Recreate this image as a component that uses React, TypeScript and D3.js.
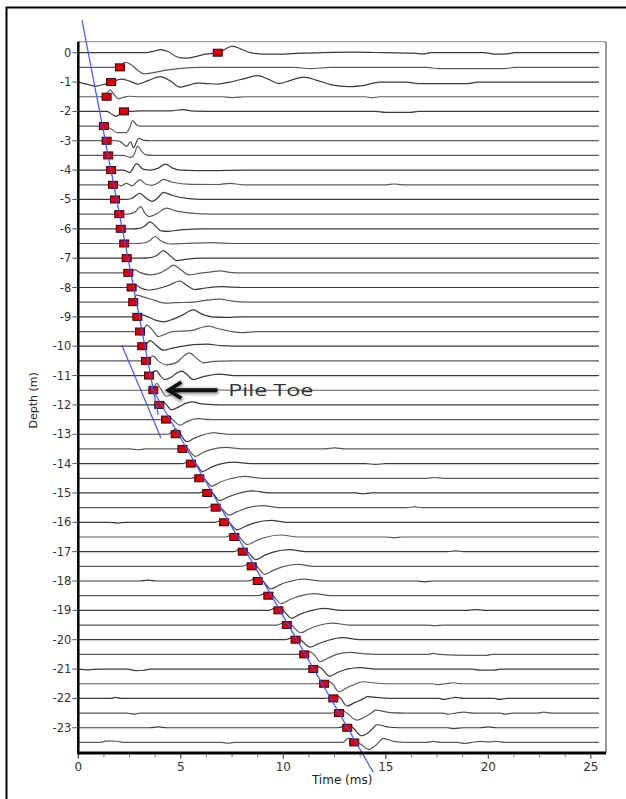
import React from "react";
import * as d3 from "d3";

const W = 626;
const H = 799;

// Trace depths (m)
const depths: number[] = Array.from({ length: 48 }, (_, i) => -i * 0.5);

// First-arrival picks (ms) for each depth
const arrivalTimes: number[] = [
  6.8, 2.03, 1.6, 1.38, 2.23, 1.25, 1.38, 1.46, 1.6, 1.69,
  1.79, 2.0, 2.07, 2.24, 2.36, 2.44, 2.6, 2.68, 2.88, 3.01,
  3.12, 3.3, 3.45, 3.66, 3.95, 4.28, 4.75, 5.08, 5.49, 5.9,
  6.29, 6.7, 7.11, 7.61, 8.02, 8.46, 8.75, 9.27, 9.76, 10.17,
  10.6, 11.02, 11.46, 11.99, 12.44, 12.72, 13.12, 13.46,
];

// Waveforms: [time ms, amplitude (up positive)]
const traceWaves: number[][][] = [
  [[0,0],[3.3,0],[3.7,1.5],[4.0,3],[4.4,1],[4.8,-4],[5.2,-5.5],[5.6,-4.5],[6.2,-1.5],[6.8,0],[7.2,4],[7.5,6.5],[7.9,4],[8.4,0],[9.0,-1.5],[9.8,-1.5],[10.8,-0.5],[11.8,0],[13.5,0.5],[15,0],[16.4,-0.5],[16.8,-1.2],[17.2,0],[19.8,0],[20.3,-1.5],[20.9,-1.2],[21.3,0],[25.4,0]],
  [[0,0],[1.6,0],[1.95,1],[2.3,5],[2.6,2.5],[2.9,-3],[3.2,-6.5],[3.6,-5.5],[4.2,-3],[5,-1],[6,0],[10.5,0],[11.3,-1.2],[12.3,0],[17.0,0],[17.6,-1.2],[20.8,-1.2],[21.3,0],[25.4,0]],
  [[0,0],[0.4,-2],[0.85,-4],[1.3,-2],[1.65,0.5],[2.1,3],[2.5,1],[2.9,-2],[3.4,1.5],[4.0,5.5],[4.5,1],[4.95,-5],[5.4,-3],[5.8,-1],[6.3,-1.5],[6.8,-2],[7.4,0],[8.2,4],[8.75,6.5],[9.3,2.5],[9.8,-1.5],[10.4,2],[11.0,5],[11.6,2],[12.3,-2.5],[13.2,-4.5],[14.0,-3],[14.7,0],[16,0],[16.6,-1.5],[19.0,-1.5],[19.5,0],[25.4,0]],
  [[0,0],[1.2,0],[1.38,3],[1.55,7],[1.75,2],[1.95,-2],[2.2,-0.5],[2.5,0.5],[3.0,0],[7,0],[7.5,-0.8],[8.2,0],[14,0],[14.3,-1],[14.7,0],[25.4,0]],
  [[0,0],[1.4,0],[1.65,-3],[1.85,-5],[2.05,-2],[2.3,2.5],[2.55,0],[3.0,0.5],[4.5,0.5],[5.1,1.8],[5.6,0.3],[7,0],[14.5,0],[15,-1],[16.2,-1],[16.6,0],[25.4,0]],
  [[0,0],[1.25,0],[1.6,-3],[1.9,-6.5],[2.35,-6.5],[2.5,-2],[2.65,5.5],[2.85,1],[3.0,0],[25.4,0]],
  [[0,0],[1.9,0],[2.1,-1.5],[2.36,-5.5],[2.55,-1],[2.7,-7],[2.8,-3],[2.95,2.5],[3.2,0.5],[3.5,0],[25.4,0]],
  [[0,0],[2.2,0],[2.55,-2],[2.7,0],[2.9,9],[3.1,4],[3.3,0.5],[3.7,0],[25.4,0]],
  [[0,0],[2.2,0],[2.5,-2.5],[2.85,6.5],[3.15,1],[3.5,0],[3.9,2],[4.25,6],[4.6,2],[5.0,0],[6.5,-0.5],[8,0],[25.4,0]],
  [[0,0],[1.9,0],[2.1,-1],[2.35,1.5],[2.6,-1],[3.0,5],[3.3,0.5],[3.6,-0.5],[3.9,2],[4.15,5.5],[4.6,2.5],[5.5,0.5],[6.8,0.3],[7.4,1.5],[8,0],[15,0],[15.4,0.8],[15.8,0],[25.4,0]],
  [[0,0],[2.3,0],[2.6,1],[3.0,6],[3.3,1.5],[3.6,-2],[3.9,2],[4.15,7],[4.6,4],[5.3,1],[6,0],[25.4,0]],
  [[0,0],[2.4,0],[2.75,2],[3.05,7.5],[3.25,1],[3.45,-2.5],[3.8,0],[4.3,6],[4.8,3],[5.5,1],[6.5,0],[25.4,0]],
  [[0,0],[2.6,0],[3.0,0.5],[3.25,3],[3.5,7],[3.75,3],[4.05,-2],[4.4,-2.5],[5,-1],[6,0],[25.4,0]],
  [[0,0],[2.8,0],[3.2,0.5],[3.5,3],[3.75,7],[4.0,3],[4.5,-0.5],[5.2,0],[6.5,0.8],[7.5,0],[25.4,0]],
  [[0,0],[3.0,0],[3.5,0.5],[3.85,3],[4.15,7.5],[4.45,3],[4.8,-2.5],[5.3,-1],[6,0],[25.4,0]],
  [[0,0],[2.5,0],[2.75,3],[3.0,0.5],[3.5,-2],[4.0,0],[4.35,4],[4.65,7.8],[5.0,3],[5.4,-2],[5.9,-0.5],[6.5,1],[6.9,2],[7.4,0.5],[8,0],[25.4,0]],
  [[0,0],[2.6,0],[2.8,2.5],[3.0,0],[3.4,-2.5],[3.9,-1],[4.4,2],[4.95,6.5],[5.3,2],[5.7,-2],[6.2,-0.5],[7,0.8],[8,0],[25.4,0]],
  [[0,0],[2.6,0],[2.85,7],[3.2,5],[3.7,2],[4.2,-1],[4.8,-0.5],[5.6,0],[6.1,1.5],[6.9,3],[7.5,1],[8.3,0],[25.4,0]],
  [[0,0],[2.85,0],[3.1,2],[3.4,0],[3.8,-3.5],[4.15,-5],[4.6,-2.5],[5.1,2],[5.6,7],[6.0,3],[6.5,0],[7.2,-0.5],[8,0],[25.4,0]],
  [[0,0],[3.0,0],[3.2,3],[3.35,6.5],[3.6,2],[3.9,-5],[4.2,-3],[4.6,0],[5.5,1],[6.0,4],[6.35,5.5],[6.8,3],[7.5,0],[8.0,-1],[8.7,0],[25.4,0]],
  [[0,0],[3.1,0],[3.3,2],[3.5,5.5],[3.8,1],[4.15,-4],[4.6,-2],[5.1,0],[5.6,1.5],[6.3,2],[7,0.5],[8,0],[25.4,0]],
  [[0,0],[3.3,0],[3.45,2],[3.65,5],[3.9,0],[4.3,-4],[4.8,-1.5],[5.1,4],[5.4,8],[5.75,3],[6.1,-2],[6.6,-0.5],[7.5,0],[25.4,0]],
  [[0,0],[3.45,0],[3.6,3],[3.8,5],[4.0,0],[4.2,-4],[4.55,-1.5],[4.8,2.5],[5.05,4.5],[5.35,0],[5.6,-4],[6.1,-1],[6.9,1.5],[7.6,0],[25.4,0]],
  [[0,0],[3.6,0],[3.7,3],[3.82,7],[4.0,2],[4.3,-6],[4.7,-3],[5.3,0],[6.5,0.5],[7.5,0],[25.4,0]],
  [[0,0],[3.8,0],[4.0,2],[4.15,3],[4.3,0],[4.55,-5],[4.9,-2],[5.3,2],[5.6,3],[6.0,1],[7,0],[25.4,0]],
  [[0,0],[4.1,0],[4.3,2],[4.4,3.5],[4.6,0],[4.95,-5.5],[5.3,-2],[5.8,1],[6.5,0],[25.4,0]],
  [[0,0],[4.4,0],[4.6,3],[4.75,5.5],[4.95,1],[5.3,-7.5],[5.65,-4],[6.1,-0.5],[6.6,1.5],[7.3,0],[25.4,0]],
  [[0,0],[2.5,0],[2.9,-0.8],[3.3,0],[4.8,0],[5.0,2],[5.15,3.5],[5.35,0],[5.7,-7.5],[6.05,-4],[6.5,-0.5],[7.2,1.5],[8,0],[12,0],[12.5,1],[13,0],[25.4,0]],
  [[0,0],[5.1,0],[5.35,2],[5.55,3],[5.75,0],[6.05,-8],[6.45,-4],[6.9,-0.5],[7.6,1.5],[8.4,0],[14,0],[14.5,-0.8],[15,0],[25.4,0]],
  [[0,0],[5.5,0],[5.8,2],[5.95,3],[6.15,0],[6.5,-8],[6.9,-4],[7.4,-0.5],[8.1,2],[9,0],[17,0],[17.4,0.8],[17.8,0],[25.4,0]],
  [[0,0],[5.9,0],[6.15,2],[6.35,3],[6.55,0],[6.9,-7.5],[7.3,-4],[7.8,-0.5],[8.5,2],[9.3,0],[13.5,0],[13.9,-0.8],[14.3,0],[25.4,0]],
  [[0,0],[6.3,0],[6.55,2],[6.75,3],[6.95,0],[7.35,-7.5],[7.75,-4],[8.2,-0.5],[9.0,2],[9.8,0],[16,0],[16.4,0.8],[16.8,0],[25.4,0]],
  [[0,0],[1.5,0],[1.9,-0.8],[2.3,0],[6.7,0],[6.95,2],[7.15,3],[7.35,0],[7.75,-7.5],[8.15,-4],[8.6,-0.5],[9.4,2],[10.2,0],[25.4,0]],
  [[0,0],[7.2,0],[7.45,2],[7.65,3],[7.85,0],[8.25,-7.5],[8.65,-4],[9.1,-0.5],[9.9,2],[10.7,0],[15,0],[15.4,-0.8],[15.8,0],[25.4,0]],
  [[0,0],[7.6,0],[7.85,2],[8.05,3],[8.25,0],[8.65,-8],[9.05,-4],[9.5,-0.5],[10.3,2],[11.1,0],[18,0],[18.4,0.8],[18.8,0],[25.4,0]],
  [[0,0],[8.0,0],[8.25,2],[8.5,3],[8.7,0],[9.1,-8],[9.5,-4],[9.95,-0.5],[10.7,2],[11.5,0],[25.4,0]],
  [[0,0],[3.0,0],[3.4,0.8],[3.8,0],[8.3,0],[8.55,2],[8.8,3],[9.0,0],[9.4,-8],[9.8,-4],[10.3,-0.5],[11.0,2],[11.8,0],[16.5,0],[16.9,-0.8],[17.3,0],[25.4,0]],
  [[0,0],[8.8,0],[9.05,2],[9.3,3],[9.5,0],[9.9,-8],[10.3,-4],[10.8,-0.5],[11.5,2],[12.3,0],[25.4,0]],
  [[0,0],[9.3,0],[9.55,2],[9.8,3],[10.0,0],[10.4,-8],[10.8,-4],[11.3,-0.5],[12.0,2],[12.8,0],[19,0],[19.4,0.8],[19.8,0],[25.4,0]],
  [[0,0],[9.7,0],[9.95,2],[10.2,3],[10.4,0],[10.85,-7.7],[11.25,-4],[11.7,-0.5],[12.4,2],[13.2,0],[17,0],[17.4,-0.8],[17.8,0],[25.4,0]],
  [[0,0],[10.1,0],[10.4,2],[10.65,3],[10.85,0],[11.3,-7.5],[11.7,-4],[12.2,-0.5],[12.9,2],[13.7,0],[25.4,0]],
  [[0,0],[10.7,0],[11.0,1],[11.25,2.7],[11.5,0],[11.8,-7.3],[12.2,-3.5],[12.6,0],[13.25,2],[14,0.5],[15,0],[17.1,0],[17.3,1],[17.6,0],[19.1,-1],[19.9,-1],[20.2,0],[25.4,0]],
  [[0,0],[0.5,-0.8],[1.0,0],[2.4,0],[2.8,-1.5],[3.2,-1.2],[3.5,0],[11.1,0],[11.45,1.5],[11.7,2.5],[11.9,0],[12.25,-7],[12.65,-3.5],[13.1,0],[13.75,1.5],[14.5,0],[19.2,0],[19.6,-1],[20.3,-1],[20.6,0],[25.4,0]],
  [[0,0],[11.6,0],[11.95,1.5],[12.2,2.5],[12.4,0],[12.7,-8],[13.1,-4],[13.5,-0.5],[13.85,2],[14.6,0.5],[15.5,0],[17.3,0],[17.5,-1],[17.9,0],[18.3,1],[18.7,0],[25.4,0]],
  [[0,0],[1.6,0],[1.8,1],[2.1,0],[12.0,0],[12.35,1.5],[12.6,2.5],[12.8,0],[13.1,-7.6],[13.5,-4],[13.9,-0.5],[14.1,1.7],[14.8,0.5],[15.5,0],[17.6,0],[17.8,-1],[18.1,0],[18.4,1],[18.8,0],[20.3,0],[20.5,-1],[20.9,0],[25.4,0]],
  [[0,0],[2.4,0],[2.7,-1],[3.0,0],[12.3,0],[12.65,1.5],[12.9,2.5],[13.1,0],[13.58,-7],[14.0,-3.5],[14.3,0],[14.5,3],[15.2,0.5],[16,0],[17.8,0],[18,-1],[18.4,0],[18.8,1],[19.3,0],[20.6,0],[20.8,-1],[21.2,0],[22.4,0],[22.7,1],[23.1,0],[25.4,0]],
  [[0,0],[3.5,0],[3.9,0.8],[4.3,0],[12.7,0],[13.0,2],[13.2,3],[13.4,0],[13.82,-8],[14.2,-4],[14.4,0],[14.55,3],[15.2,0.5],[16,0],[18,0],[18.3,-0.8],[18.8,0],[19.6,0],[20,0.8],[20.4,0],[25.4,0]],
  [[0,0],[1.1,0],[1.4,1.5],[1.9,1.2],[2.2,0],[7.0,0],[7.3,-0.8],[7.6,0],[12.9,0],[13.17,4],[13.5,1.5],[13.8,-2],[14.15,-7],[14.5,-3],[14.88,4],[15.4,1],[16,0],[17,0],[17.3,1],[17.7,0],[18.5,0],[18.8,-1],[19.2,0],[19.6,1],[20,0.5],[20.4,1],[20.8,0],[25.4,0]],
];

// Picked velocity lines [time ms, depth m]
const shaftLine: number[][] = [[0.18, 1.11], [3.9, -12.35]];
const toeLine: number[][] = [[2.12, -9.96], [4.03, -13.13]];
const soilLine: number[][] = [[3.5, -11.32], [14.38, -24.51]];

const xMajorTicks: number[] = [0, 5, 10, 15, 20, 25];
const xMinorTicks: number[] = d3.range(0, 25.01, 1.25);
const yTickLabels: number[] = d3.range(0, -23.5, -1);

const AMP_UNIT = 1 / 29.35; // amplitude unit in metres of depth

export default function App() {
  const x = d3.scaleLinear().domain([0, 25.74]).range([78.3, 606]);
  const y = d3.scaleLinear().domain([0.375, -23.86]).range([41.7, 753]);

  const traceLine = (depth: number) =>
    d3
      .line<number[]>()
      .x((p) => x(p[0]))
      .y((p) => y(depth + p[1] * AMP_UNIT))
      .curve(d3.curveMonotoneX);

  const straight = d3
    .line<number[]>()
    .x((p) => x(p[0]))
    .y((p) => y(p[1]));

  const x0 = x(0);
  const x1 = x(25.74);
  const yTop = y(0.375);
  const yBot = y(-23.86);

  const mw = 9;
  const mh = 7;

  // annotation anchored to the -11.5 m pick
  const toeX = x(arrivalTimes[23]);
  const toeY = y(depths[23]);
  const tipX = toeX + 15;

  return (
    <svg
      width={W}
      height={H}
      style={{ position: "absolute", left: 0, top: 0, background: "#fff" }}
      fontFamily="DejaVu Sans, Arial, sans-serif"
    >
      <defs>
        <filter id="blur" x="-20%" y="-50%" width="140%" height="200%">
          <feGaussianBlur stdDeviation="1.6" />
        </filter>
      </defs>
      <rect x={0} y={0} width={W} height={H} fill="#fff" />
      {/* outer frame */}
      <rect x={6.5} y={7.5} width={660} height={840} fill="none" stroke="#000" strokeWidth={2} />

      {/* plot frame */}
      <line x1={x0} x2={x1} y1={yTop} y2={yTop} stroke="#8a8a8a" strokeWidth={1} />
      <line x1={x1} x2={x1} y1={yTop} y2={yBot} stroke="#333" strokeWidth={1} />

      {/* traces */}
      {traceWaves.map((w, i) => (
        <path
          key={i}
          d={traceLine(depths[i])(w) || ""}
          fill="none"
          stroke={i % 2 === 0 ? "#3a3a3a" : "#5a5a5a"}
          strokeWidth={1.2}
        />
      ))}

      {/* markers */}
      {arrivalTimes.map((t, i) => (
        <rect
          key={i}
          x={x(t) - mw / 2}
          y={y(depths[i]) - mh / 2}
          width={mw}
          height={mh}
          fill="#d80000"
          stroke="#3a0010"
          strokeWidth={1}
        />
      ))}

      {/* blue lines */}
      {[shaftLine, toeLine, soilLine].map((l, i) => (
        <path key={i} d={straight(l) || ""} stroke="#4050ee" strokeWidth={1.3} fill="none" opacity={0.9} />
      ))}

      {/* axes */}
      <line x1={x0} x2={x0} y1={yTop} y2={yBot + 1.5} stroke="#000" strokeWidth={2.5} />
      <line x1={x0 - 1} x2={x1} y1={yBot} y2={yBot} stroke="#000" strokeWidth={3} />

      {yTickLabels.map((v) => (
        <g key={v}>
          <line x1={x0 - 6} x2={x0} y1={y(v)} y2={y(v)} stroke="#555" strokeWidth={1} />
          <text x={x0 - 7} y={y(v)} dy="0.35em" textAnchor="end" fontSize={11.5} fill="#333">
            {v === 0 ? "0" : `-${Math.abs(v)}`}
          </text>
        </g>
      ))}

      {xMinorTicks.map((v) => (
        <line key={v} x1={x(v)} x2={x(v)} y1={yBot + 1.5} y2={yBot + 4.5} stroke="#777" strokeWidth={1} />
      ))}
      {xMajorTicks.map((v) => (
        <g key={v}>
          <line x1={x(v)} x2={x(v)} y1={yBot + 1.5} y2={yBot + 6} stroke="#555" strokeWidth={1} />
          <text x={x(v)} y={yBot + 14} dy="0.35em" textAnchor="middle" fontSize={12} fill="#333">
            {v}
          </text>
        </g>
      ))}

      <text x={(x0 + x1) / 2 + 0} y={784} textAnchor="middle" fontSize={12} fill="#222">
        Time (ms)
      </text>
      <text
        transform={`translate(37, ${(yTop + yBot) / 2 + 3}) rotate(-90)`}
        textAnchor="middle"
        fontSize={11}
        fill="#222"
      >
        Depth (m)
      </text>

      {/* Pile toe annotation */}
      <g>
        <g filter="url(#blur)" opacity={0.6}>
          <line x1={tipX + 6} x2={tipX + 50} y1={toeY + 1} y2={toeY + 1} stroke="#555" strokeWidth={6} />
          <path d={`M${tipX + 14},${toeY - 8} L${tipX},${toeY + 1} L${tipX + 14},${toeY + 10}`} stroke="#555" strokeWidth={5} fill="none" />
        </g>
        <line x1={tipX + 4} x2={tipX + 49} y1={toeY} y2={toeY} stroke="#111" strokeWidth={4} />
        <path
          d={`M${tipX + 13},${toeY - 8} L${tipX},${toeY} L${tipX + 13},${toeY + 8}`}
          stroke="#111"
          strokeWidth={3.5}
          fill="none"
          strokeLinejoin="miter"
        />
        <text x={tipX + 60} y={toeY + 6} fontFamily="Open Sans, sans-serif" fontSize={17} fill="#333" textLength={85} lengthAdjust="spacingAndGlyphs">
          Pile Toe
        </text>
      </g>
    </svg>
  );
}
